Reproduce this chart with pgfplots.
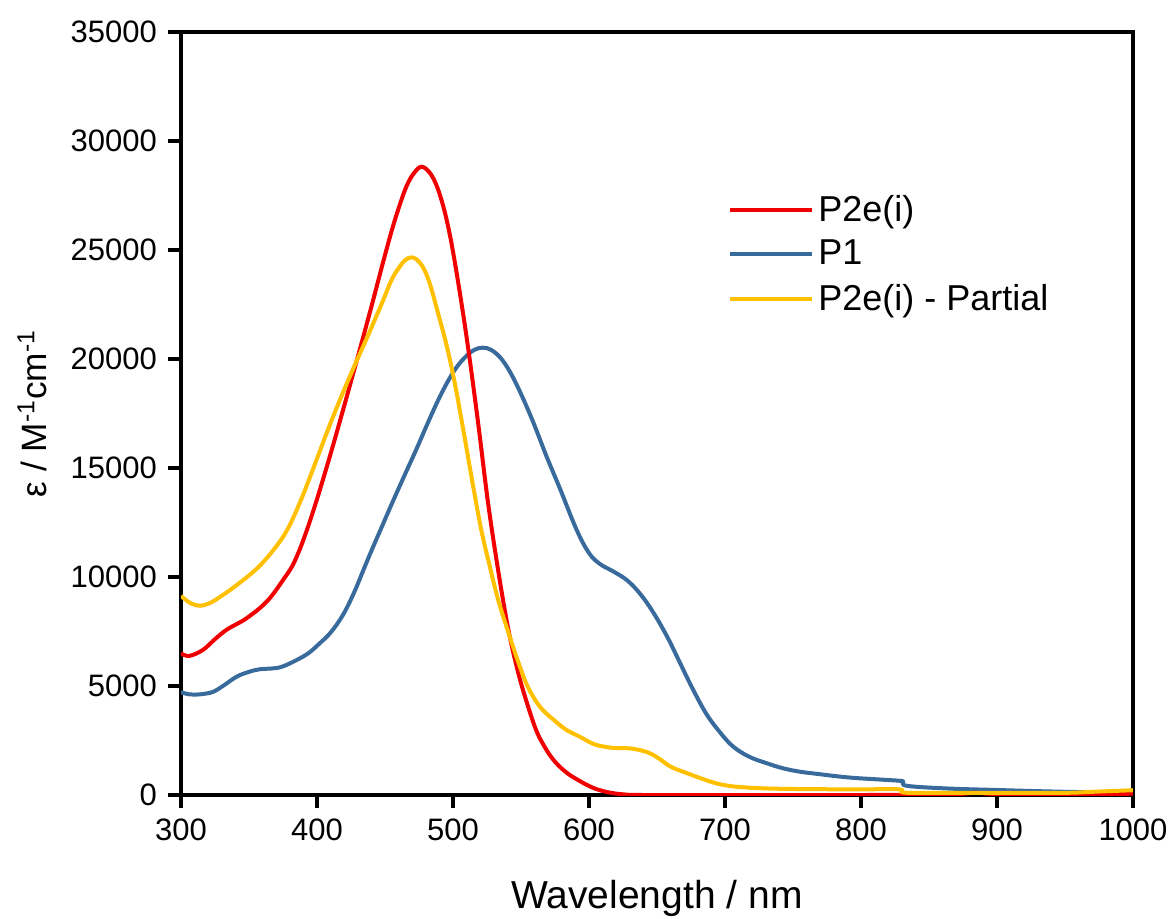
\documentclass[border=0pt]{standalone}
\usepackage{pgfplots}
\pgfplotsset{compat=1.18}
\usepackage{fontspec}
\setmainfont{Liberation Sans}
\definecolor{cred}{HTML}{F00000}
\definecolor{cblue}{HTML}{386A9C}
\definecolor{cyel}{HTML}{FFC000}

\begin{document}
\begin{tikzpicture}
\begin{axis}[
  scale only axis, width=476pt, height=381.5pt,
  xmin=300, xmax=1000, ymin=0, ymax=35000,
  xtick={300,400,...,1000}, ytick={0,5000,...,35000},
  scaled y ticks=false,
  /pgf/number format/1000 sep={},
  /pgf/number format/assume math mode=true,
  xtick pos=bottom, ytick pos=left, tick align=outside,
  major tick length=6.5pt,
  axis line style={line width=2.4pt, black},
  every tick/.style={line width=2.4pt, black},
  tick label style={font=\fontsize{15.5}{18}\selectfont},
  xticklabel style={yshift=-2pt},
  yticklabel style={xshift=-2pt},
  xlabel={Wavelength / nm},
  xlabel style={font=\fontsize{19.5}{23}\selectfont, at={(axis description cs:0.5,0)}, anchor=base, yshift=-56.5pt},
  ylabel={ε / M\textsuperscript{-1}cm\textsuperscript{-1}},
  ylabel style={font=\fontsize{17.6}{20}\selectfont, at={(axis description cs:-0.1408,0.5)}, anchor=base},
  legend style={draw=none, fill=none, at={(axis description cs:0.5746,0.792)}, anchor=north west,
    font=\fontsize{18}{21}\selectfont, row sep=4pt, inner sep=0pt},
  legend cell align=left,
  legend image code/.code={\draw[#1] (0pt,0pt) -- (41pt,0pt);},
]
\addlegendimage{cred, line width=2pt}
\addlegendentry{P2e(i)}
\addlegendimage{cblue, line width=2pt}
\addlegendentry{P1}
\addlegendimage{cyel, line width=2pt}
\addlegendentry{P2e(i) - Partial}

% P1
\addplot[cblue, line width=2pt, smooth, tension=0.6, forget plot] coordinates {
(300,4710)(306,4620)(312,4610)(318,4650)(324,4740)(332,5050)(341,5430)(350,5650)
(358,5770)(366,5800)(374,5880)(385,6190)(394,6520)(402,6960)(410,7450)(419,8250)
(427,9250)(434,10300)(440,11200)(448,12350)(456,13500)(465,14750)(473,15850)
(481,17000)(489,18100)(496,18950)(503,19650)(510,20150)(516,20430)(522,20520)
(528,20420)(535,20050)(542,19400)(550,18400)(559,17100)(569,15500)(579,14000)
(591,12150)(600,11100)(608,10600)(618,10250)(628,9850)(638,9200)(648,8300)
(658,7200)(667,6050)(676,4900)(686,3750)(696,2900)(706,2220)(718,1750)(731,1450)
(743,1220)(755,1070)(765,990)(790,810)(814,710)(829,650)(831,600)(834,420)
(863,300)(900,230)(948,150)(1000,100)};

% P2e(i)
\addplot[cred, line width=2pt, smooth, tension=0.6, forget plot] coordinates {
(300,6500)(306,6380)(316,6650)(325,7150)(334,7600)(348,8100)(363,8870)(375,9860)
(384,10780)(395,12600)(410,15650)(428,19650)(440,22400)(448,24300)(455,25900)
(461,27100)(466,27950)(471,28500)(477,28820)(484,28450)(490,27600)(496,26200)
(502,24200)(510,21000)(518,17300)(526,13300)(534,10000)(541,7500)(548,5600)
(554,4300)(561,3000)(567,2250)(574,1600)(583,1050)(593,650)(603,330)(613,140)
(625,30)(640,0)(700,0)(800,0)(830,10)(840,0)(870,40)(885,100)(900,40)(950,30)(1000,60)};

% P2e(i) - Partial
\addplot[cyel, line width=2pt, smooth, tension=0.6, forget plot] coordinates {
(300,9130)(307,8800)(314,8680)(321,8800)(329,9100)(341,9630)(356,10400)(368,11240)
(378,12150)(388,13500)(398,15100)(408,16750)(418,18300)(428,19750)(438,21150)
(448,22600)(455,23650)(461,24250)(465,24540)(469,24660)(473,24580)(478,24200)
(483,23450)(489,22100)(495,20700)(501,19000)(508,16600)(515,14100)(521,12100)
(527,10500)(533,9000)(541,7400)(548,6100)(554,5100)(560,4400)(566,3900)(574,3450)
(583,3000)(593,2680)(603,2350)(611,2220)(620,2150)(630,2140)(638,2050)(645,1910)
(652,1650)(660,1300)(670,1050)(679,840)(690,600)(699,460)(710,370)(731,300)
(760,270)(800,260)(828,260)(832,110)(860,100)(900,100)(950,100)(975,160)(1000,220)};
\end{axis}
\pgfresetboundingbox
\path (current axis.south west) ++(-90.5pt,-61.5pt) rectangle ++(586.5pt,459pt);
\end{tikzpicture}
\end{document}
